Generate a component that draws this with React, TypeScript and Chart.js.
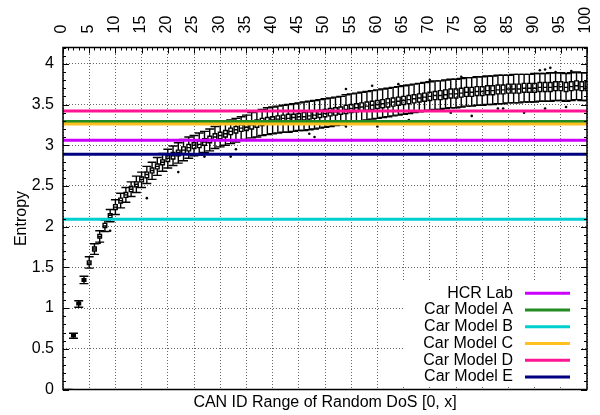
import React, { useEffect, useRef } from 'react';
import { Chart, registerables } from 'chart.js';

Chart.register(...registerables);

const FONT = '"Liberation Sans", Arial, Helvetica, sans-serif';

// ---- data ----
const idRange = [
  1, 2, 3, 4, 5, 6, 7, 8, 9, 10, 11, 12, 13, 14, 15, 16, 17, 18, 19, 20,
  21, 22, 23, 24, 25, 26, 27, 28, 29, 30, 31, 32, 33, 34, 35, 36, 37, 38, 39, 40,
  41, 42, 43, 44, 45, 46, 47, 48, 49, 50, 51, 52, 53, 54, 55, 56, 57, 58, 59, 60,
  61, 62, 63, 64, 65, 66, 67, 68, 69, 70, 71, 72, 73, 74, 75, 76, 77, 78, 79, 80,
  81, 82, 83, 84, 85, 86, 87, 88, 89, 90, 91, 92, 93, 94, 95, 96, 97, 98, 99, 100,
];

const medianEntropy = [
  0, 0.66, 1.055, 1.345, 1.555, 1.725, 1.88, 2.01, 2.14, 2.24,
  2.32, 2.39, 2.46, 2.52, 2.58, 2.64, 2.69, 2.74, 2.79, 2.84,
  2.87, 2.91, 2.94, 2.97, 3.0, 3.01, 3.04, 3.07, 3.1, 3.12,
  3.14, 3.17, 3.19, 3.21, 3.22, 3.25, 3.27, 3.29, 3.3, 3.31,
  3.32, 3.33, 3.33, 3.34, 3.35, 3.35, 3.36, 3.37, 3.38, 3.39,
  3.4, 3.41, 3.42, 3.44, 3.45, 3.46, 3.47, 3.48, 3.49, 3.5,
  3.51, 3.52, 3.53, 3.54, 3.55, 3.56, 3.57, 3.58, 3.59, 3.6,
  3.61, 3.61, 3.62, 3.63, 3.63, 3.64, 3.65, 3.65, 3.66, 3.66,
  3.67, 3.67, 3.68, 3.68, 3.69, 3.69, 3.69, 3.7, 3.7, 3.7,
  3.71, 3.71, 3.71, 3.72, 3.72, 3.71, 3.72, 3.73, 3.72, 3.72,
];

const q1Entropy = [
  0, 0.65, 1.04, 1.33, 1.535, 1.7, 1.86, 1.99, 2.11, 2.21,
  2.29, 2.36, 2.43, 2.49, 2.55, 2.6, 2.66, 2.71, 2.76, 2.8,
  2.83, 2.87, 2.9, 2.93, 2.96, 2.97, 3.0, 3.03, 3.06, 3.08,
  3.1, 3.13, 3.15, 3.17, 3.18, 3.2, 3.22, 3.24, 3.26, 3.27,
  3.28, 3.29, 3.29, 3.3, 3.31, 3.31, 3.32, 3.33, 3.34, 3.35,
  3.36, 3.37, 3.38, 3.39, 3.4, 3.41, 3.42, 3.43, 3.44, 3.45,
  3.46, 3.47, 3.48, 3.49, 3.5, 3.51, 3.52, 3.53, 3.54, 3.55,
  3.56, 3.56, 3.57, 3.58, 3.58, 3.59, 3.6, 3.6, 3.61, 3.61,
  3.62, 3.62, 3.63, 3.63, 3.64, 3.64, 3.64, 3.65, 3.65, 3.65,
  3.66, 3.66, 3.66, 3.67, 3.67, 3.66, 3.67, 3.68, 3.67, 3.67,
];

const q3Entropy = [
  0, 0.675, 1.07, 1.36, 1.58, 1.75, 1.905, 2.04, 2.16, 2.27,
  2.35, 2.42, 2.49, 2.55, 2.61, 2.67, 2.72, 2.77, 2.82, 2.87,
  2.91, 2.94, 2.98, 3.01, 3.03, 3.05, 3.08, 3.11, 3.14, 3.16,
  3.18, 3.21, 3.23, 3.25, 3.27, 3.29, 3.31, 3.33, 3.34, 3.35,
  3.36, 3.37, 3.38, 3.38, 3.39, 3.4, 3.41, 3.42, 3.43, 3.44,
  3.45, 3.46, 3.47, 3.49, 3.5, 3.51, 3.52, 3.53, 3.54, 3.55,
  3.56, 3.57, 3.58, 3.59, 3.6, 3.61, 3.62, 3.63, 3.64, 3.65,
  3.66, 3.67, 3.68, 3.69, 3.69, 3.7, 3.71, 3.71, 3.72, 3.72,
  3.73, 3.73, 3.74, 3.74, 3.75, 3.75, 3.75, 3.76, 3.76, 3.76,
  3.77, 3.77, 3.77, 3.78, 3.78, 3.77, 3.78, 3.79, 3.78, 3.78,
];

const whiskerLow = [
  0, 0.63, 1.01, 1.3, 1.49, 1.66, 1.81, 1.94, 2.06, 2.15,
  2.23, 2.3, 2.37, 2.42, 2.48, 2.53, 2.58, 2.63, 2.68, 2.72,
  2.75, 2.78, 2.81, 2.84, 2.87, 2.88, 2.91, 2.93, 2.96, 2.98,
  3.0, 3.02, 3.04, 3.06, 3.07, 3.09, 3.1, 3.12, 3.13, 3.14,
  3.15, 3.16, 3.16, 3.17, 3.18, 3.18, 3.19, 3.2, 3.21, 3.22,
  3.23, 3.24, 3.25, 3.26, 3.27, 3.28, 3.3, 3.31, 3.32, 3.33,
  3.34, 3.35, 3.36, 3.37, 3.38, 3.39, 3.4, 3.41, 3.42, 3.43,
  3.44, 3.44, 3.45, 3.46, 3.46, 3.47, 3.48, 3.48, 3.49, 3.49,
  3.5, 3.5, 3.51, 3.51, 3.52, 3.52, 3.52, 3.53, 3.53, 3.53,
  3.54, 3.54, 3.54, 3.55, 3.55, 3.54, 3.55, 3.56, 3.55, 3.55,
];

const whiskerHigh = [
  0, 0.69, 1.09, 1.39, 1.63, 1.79, 1.95, 2.08, 2.21, 2.33,
  2.41, 2.48, 2.55, 2.62, 2.67, 2.74, 2.79, 2.85, 2.9, 2.95,
  2.99, 3.03, 3.07, 3.1, 3.12, 3.15, 3.17, 3.2, 3.23, 3.26,
  3.28, 3.31, 3.33, 3.35, 3.37, 3.4, 3.42, 3.44, 3.46, 3.47,
  3.48, 3.49, 3.5, 3.51, 3.52, 3.53, 3.54, 3.55, 3.56, 3.57,
  3.58, 3.59, 3.6, 3.62, 3.63, 3.64, 3.65, 3.66, 3.67, 3.68,
  3.69, 3.7, 3.71, 3.72, 3.73, 3.74, 3.75, 3.76, 3.77, 3.78,
  3.79, 3.79, 3.8, 3.81, 3.81, 3.82, 3.83, 3.83, 3.84, 3.84,
  3.85, 3.85, 3.86, 3.86, 3.86, 3.87, 3.87, 3.87, 3.87, 3.88,
  3.88, 3.88, 3.89, 3.89, 3.89, 3.88, 3.89, 3.9, 3.89, 3.89,
];

const outlierX = [7, 9, 16, 22, 27, 32, 33, 47, 48, 54, 54, 59, 60, 64, 66, 70, 74, 76, 78, 83, 84, 88, 91, 92, 92, 93, 94, 96, 97];
const outlierY = [1.8, 1.95, 2.35, 2.67, 2.86, 2.86, 2.95, 3.14, 3.1, 3.69, 3.23, 3.73, 3.23, 3.75, 3.31, 3.8, 3.4, 3.84, 3.36, 3.45, 3.45, 3.4, 3.92, 3.93, 3.45, 3.95, 3.9, 3.47, 3.91];

const refLabels = ['HCR Lab', 'Car Model A', 'Car Model B', 'Car Model C', 'Car Model D', 'Car Model E'];
const refValues = [3.06, 3.29, 2.09, 3.26, 3.42, 2.89];
const refColors = ['#cc00ff', '#228b22', '#00cfd0', '#ffc020', '#ff1493', '#000080'];

const xTitle = 'CAN ID Range of Random DoS [0, x]';
const yTitle = 'Entropy';
const X_MIN = 0;
const X_MAX = 100;
const Y_MIN = 0;
const Y_MAX = 4.2;

// ---- styles ----
const BOX_WIDTH = 0.7; // in x units
const CAP_WIDTH = 1.7; // in x units

const boxPlugin = {
  id: 'boxplots',
  beforeDatasetsDraw(chart: any) {
    const { ctx, chartArea } = chart;
    const x = chart.scales.x;
    const y = chart.scales.y;
    ctx.save();
    ctx.beginPath();
    ctx.rect(chartArea.left, chartArea.top, chartArea.right - chartArea.left, chartArea.bottom - chartArea.top);
    ctx.clip();
    ctx.strokeStyle = '#000';
    ctx.lineWidth = 1.4;
    const unit = x.getPixelForValue(1) - x.getPixelForValue(0);
    const bw = BOX_WIDTH * unit;
    const cw = CAP_WIDTH * unit;
    for (let i = 0; i < idRange.length; i++) {
      const cx = x.getPixelForValue(idRange[i]);
      const yLo = y.getPixelForValue(whiskerLow[i]);
      const yQ1 = y.getPixelForValue(q1Entropy[i]);
      const yMed = y.getPixelForValue(medianEntropy[i]);
      const yQ3 = y.getPixelForValue(q3Entropy[i]);
      const yHi = y.getPixelForValue(whiskerHigh[i]);
      ctx.beginPath();
      ctx.moveTo(cx, yQ1);
      ctx.lineTo(cx, yLo);
      ctx.moveTo(cx, yQ3);
      ctx.lineTo(cx, yHi);
      ctx.moveTo(cx - cw / 2, yLo);
      ctx.lineTo(cx + cw / 2, yLo);
      ctx.moveTo(cx - cw / 2, yHi);
      ctx.lineTo(cx + cw / 2, yHi);
      ctx.rect(cx - bw / 2, yQ3, bw, yQ1 - yQ3);
      ctx.moveTo(cx - bw / 2, yMed);
      ctx.lineTo(cx + bw / 2, yMed);
      ctx.stroke();
    }
    ctx.restore();
  },
  afterDraw(chart: any) {
    const { ctx, chartArea } = chart;
    const x = chart.scales.x;
    const y = chart.scales.y;
    const { left, right, top, bottom } = chartArea;
    ctx.save();
    // top tick labels, rotated, reading bottom to top
    ctx.fillStyle = '#000';
    ctx.font = `16px ${FONT}`;
    ctx.textAlign = 'left';
    ctx.textBaseline = 'middle';
    x.ticks.forEach((t: any) => {
      const px = x.getPixelForValue(t.value);
      ctx.save();
      ctx.translate(px - 1, top - 14);
      ctx.rotate(-Math.PI / 2);
      ctx.fillText(String(t.value), 0, 0);
      ctx.restore();
    });
    // legend (inside, bottom right)
    ctx.fillStyle = '#fff';
    ctx.fillRect(right - 184, bottom - 108.5, 179, 104.5);
    ctx.font = `16px ${FONT}`;
    ctx.textAlign = 'right';
    ctx.textBaseline = 'middle';
    const ds = chart.data.datasets.filter((d: any) => d.isRef);
    const n = ds.length;
    ds.forEach((d: any, k: number) => {
      const yRow = bottom - 12.5 - (n - 1 - k) * 16.75;
      ctx.fillStyle = '#000';
      ctx.fillText(d.label, right - 74, yRow);
      ctx.strokeStyle = d.borderColor;
      ctx.lineWidth = 3;
      ctx.beginPath();
      ctx.moveTo(right - 62, yRow);
      ctx.lineTo(right - 17, yRow);
      ctx.stroke();
    });
    // inward ticks
    ctx.strokeStyle = '#000';
    ctx.lineWidth = 1;
    ctx.beginPath();
    for (let v = X_MIN; v <= X_MAX; v += 1) {
      const px = Math.round(x.getPixelForValue(v)) + 0.5;
      const len = v % 5 === 0 ? 6 : 3;
      ctx.moveTo(px, top);
      ctx.lineTo(px, top + len);
    }
    for (let k = 0; k <= 42; k++) {
      const v = k / 10;
      const py = Math.round(y.getPixelForValue(v)) + 0.5;
      const len = k % 5 === 0 ? 6 : 3;
      ctx.moveTo(left, py);
      ctx.lineTo(left + len, py);
      ctx.moveTo(right, py);
      ctx.lineTo(right - len, py);
    }
    ctx.stroke();
    // border
    ctx.lineWidth = 1.5;
    ctx.strokeRect(left, top, right - left, bottom - top);
    ctx.restore();
  },
};

export default function App() {
  const ref = useRef<HTMLCanvasElement>(null);
  useEffect(() => {
    const canvas = ref.current;
    if (!canvas) return;
    Chart.defaults.font.family = FONT;
    Chart.defaults.font.size = 16;
    Chart.defaults.color = '#000';
    const refDatasets = refLabels.map((label, i) => ({
      type: 'line' as const,
      label,
      isRef: true,
      data: [
        { x: X_MIN, y: refValues[i] },
        { x: X_MAX, y: refValues[i] },
      ],
      borderColor: refColors[i],
      backgroundColor: refColors[i],
      borderWidth: 3,
      pointRadius: 0,
      xAxisID: 'x',
      yAxisID: 'y',
      order: refLabels.length - i,
    }));
    const gridColor = 'rgba(0,0,0,0.6)';
    const chart = new Chart(canvas, {
      type: 'scatter',
      data: {
        datasets: [
          {
            type: 'scatter' as const,
            label: 'outliers',
            data: outlierX.map((xv, i) => ({ x: xv, y: outlierY[i] })),
            pointRadius: 1.3,
            pointBackgroundColor: '#000',
            pointBorderWidth: 0,
            xAxisID: 'x',
            yAxisID: 'y',
            order: 20,
          } as any,
          ...(refDatasets as any[]),
        ],
      },
      plugins: [boxPlugin],
      options: {
        responsive: false,
        devicePixelRatio: 1,
        animation: false,
        layout: { padding: { left: 0, right: 13, top: 0, bottom: 0 } },
        plugins: {
          legend: { display: false },
          tooltip: { enabled: false },
        },
        scales: {
          x: {
            type: 'linear',
            position: 'top',
            min: X_MIN,
            max: X_MAX,
            afterFit: (s: any) => {
              s.height = 47.5;
            },
            ticks: {
              stepSize: 5,
              display: false,
              autoSkip: false,
            },
            grid: { color: gridColor, lineWidth: 1, drawTicks: false, tickLength: 0 },
            border: { display: false, dash: [1, 2] },
          },
          xb: {
            type: 'linear',
            position: 'bottom',
            min: X_MIN,
            max: X_MAX,
            afterFit: (s: any) => {
              s.height = 25.5;
            },
            ticks: { display: false },
            grid: { display: false, drawTicks: false },
            border: { display: false },
            title: {
              display: true,
              text: xTitle,
              color: '#000',
              font: { family: FONT, size: 16 },
              padding: { top: 0, bottom: 3 },
            },
          },
          y: {
            type: 'linear',
            position: 'left',
            min: Y_MIN,
            max: Y_MAX,
            afterFit: (s: any) => {
              s.width = 63;
            },
            ticks: {
              stepSize: 0.5,
              includeBounds: false,
              padding: 9,
              color: '#000',
              font: { family: FONT, size: 16 },
              callback: (v: any) => String(Math.round(Number(v) * 10) / 10),
            },
            grid: { color: gridColor, lineWidth: 1, drawTicks: false, tickLength: 0 },
            border: { display: false, dash: [1, 2] },
            title: {
              display: true,
              text: yTitle,
              color: '#000',
              font: { family: FONT, size: 16 },
              padding: { top: 12, bottom: 0 },
            },
          },
        },
      } as any,
    });
    return () => chart.destroy();
  }, []);
  return (
    <div style={{ position: 'fixed', left: 0, top: 0, width: 600, height: 415, background: '#fff' }}>
      <canvas ref={ref} width={600} height={415} style={{ display: 'block' }} />
    </div>
  );
}
